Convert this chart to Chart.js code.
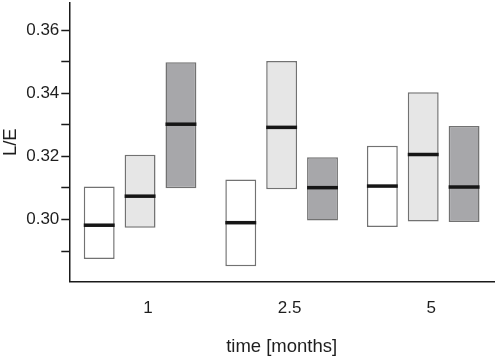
<!DOCTYPE html>
<html>
<head>
<meta charset="utf-8">
<script src="https://cdn.jsdelivr.net/npm/chart.js@4"></script>
<style>
html,body{margin:0;padding:0;background:#fff;}
#wrap{width:497px;height:360px;}
</style>
</head>
<body>
<div id="wrap"><canvas id="c" width="497" height="360"></canvas></div>
<script>
const categories = ['1', '2.5', '5'];

const whiteLow  = [0.2875, 0.2852, 0.2976];
const whiteHigh = [0.3105, 0.3127, 0.3234];
const whiteMed  = [0.2982, 0.2990, 0.3106];

const lightLow  = [0.2974, 0.3096, 0.2994];
const lightHigh = [0.3205, 0.3502, 0.3403];
const lightMed  = [0.3074, 0.3292, 0.3206];

const darkLow   = [0.3099, 0.2997, 0.2992];
const darkHigh  = [0.3498, 0.3197, 0.3296];
const darkMed   = [0.3302, 0.3101, 0.3103];

const yMin = 0.2804;
const yMax = 0.3686;
const yTickValues  = [0.29, 0.30, 0.31, 0.32, 0.33, 0.34, 0.35, 0.36];
const yTickLabels  = ['', '0.30', '', '0.32', '', '0.34', '', '0.36'];

const medians = [whiteMed, lightMed, darkMed];

const pair = (lo, hi) => lo.map((v, i) => [v, hi[i]]);

const medianPlugin = {
  id: 'medianLines',
  afterDatasetsDraw(chart) {
    const ctx = chart.ctx;
    const ys = chart.scales.y;
    ctx.save();
    ctx.strokeStyle = '#161616';
    ctx.lineWidth = 3.5;
    medians.forEach((meds, di) => {
      const meta = chart.getDatasetMeta(di);
      meta.data.forEach((bar, j) => {
        const y = ys.getPixelForValue(meds[j]);
        ctx.beginPath();
        ctx.moveTo(bar.x - bar.width / 2, y);
        ctx.lineTo(bar.x + bar.width / 2, y);
        ctx.stroke();
      });
    });
    ctx.restore();
  }
};

const barCommon = {
  borderColor: '#727272',
  borderWidth: 1.5,
  borderSkipped: false,
  categoryPercentage: 0.866,
  barPercentage: 0.756
};

new Chart(document.getElementById('c'), {
  type: 'bar',
  data: {
    labels: categories,
    datasets: [
      Object.assign({ label: 'a', data: pair(whiteLow, whiteHigh), backgroundColor: '#ffffff' }, barCommon),
      Object.assign({ label: 'b', data: pair(lightLow, lightHigh), backgroundColor: '#e6e6e6' }, barCommon),
      Object.assign({ label: 'c', data: pair(darkLow, darkHigh), backgroundColor: '#a7a7aa' }, barCommon)
    ]
  },
  plugins: [medianPlugin],
  options: {
    responsive: false,
    animation: false,
    devicePixelRatio: 1,
    layout: { padding: { left: 0, right: 3, top: 3, bottom: 0 } },
    plugins: { legend: { display: false }, tooltip: { enabled: false } },
    scales: {
      x: {
        grid: { display: true, drawOnChartArea: false, drawTicks: false },
        border: { display: true, color: '#1a1a1a', width: 1.5 },
        ticks: {
          color: '#1e1e1e',
          font: { family: 'Liberation Sans', size: 17 },
          padding: 17,
          labelOffset: 8
        },
        title: {
          display: true,
          text: 'time [months]',
          color: '#1e1e1e',
          font: { family: 'Liberation Sans', size: 18.5 },
          padding: { top: 0, bottom: 2 }
        }
      },
      y: {
        min: yMin,
        max: yMax,
        afterBuildTicks(scale) {
          scale.ticks = yTickValues.map(v => ({ value: v })).concat([{ value: yMax }]);
        },
        grid: {
          display: true, drawOnChartArea: false, drawTicks: true, tickLength: 8, tickWidth: 1.5,
          tickColor: (c) => (c.index < yTickValues.length ? '#1a1a1a' : 'rgba(0,0,0,0)')
        },
        border: { display: true, color: '#1a1a1a', width: 1.5 },
        ticks: {
          color: '#1e1e1e',
          font: { family: 'Liberation Sans', size: 17 },
          padding: 2,
          autoSkip: false,
          callback: (v, i) => (i < yTickLabels.length ? yTickLabels[i] : [])
        },
        title: {
          display: true,
          text: 'L/E',
          color: '#1e1e1e',
          font: { family: 'Liberation Sans', size: 18.5 },
          padding: { top: 0, bottom: 2 }
        }
      }
    }
  }
});
</script>
</body>
</html>
